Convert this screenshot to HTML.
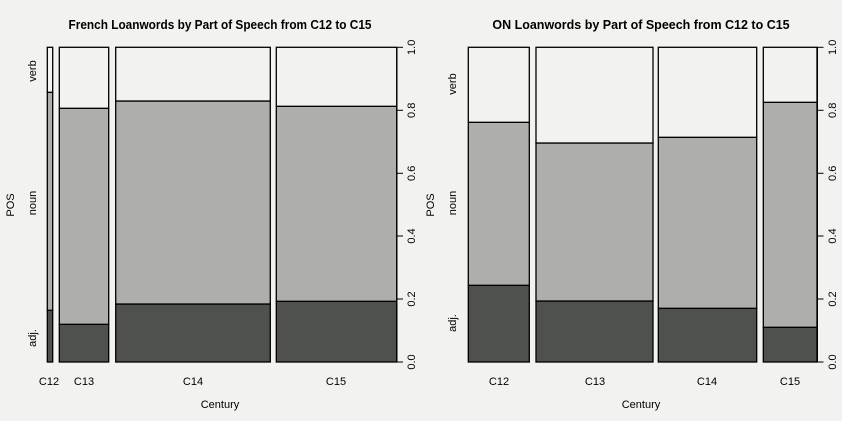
<!DOCTYPE html>
<html><head><meta charset="utf-8"><style>
html,body{margin:0;padding:0;background:#f2f3f0;}
svg{display:block;font-family:"Liberation Sans",Arial,sans-serif;}
</style></head><body>
<svg width="842" height="421" viewBox="0 0 842 421" xmlns="http://www.w3.org/2000/svg">
<rect width="842" height="421" fill="#f2f3f0"/>
<g stroke="#000" stroke-width="1.3">
<rect x="47.3" y="310.3" width="5.4" height="51.7" fill="#4f514e"/>
<rect x="47.3" y="92.3" width="5.4" height="218" fill="#aeafac"/>
<rect x="47.3" y="47.3" width="5.4" height="45" fill="#f2f3f0"/>
<rect x="59.3" y="324.3" width="49.4" height="37.7" fill="#4f514e"/>
<rect x="59.3" y="108.3" width="49.4" height="216" fill="#aeafac"/>
<rect x="59.3" y="47.3" width="49.4" height="61" fill="#f2f3f0"/>
<rect x="115.7" y="304" width="154.6" height="58" fill="#4f514e"/>
<rect x="115.7" y="101" width="154.6" height="203" fill="#aeafac"/>
<rect x="115.7" y="47.3" width="154.6" height="53.7" fill="#f2f3f0"/>
<rect x="276.3" y="301.3" width="120.4" height="60.7" fill="#4f514e"/>
<rect x="276.3" y="106.3" width="120.4" height="195" fill="#aeafac"/>
<rect x="276.3" y="47.3" width="120.4" height="59" fill="#f2f3f0"/>
<rect x="468.3" y="285.3" width="61" height="76.7" fill="#4f514e"/>
<rect x="468.3" y="122.3" width="61" height="163" fill="#aeafac"/>
<rect x="468.3" y="47.3" width="61" height="75" fill="#f2f3f0"/>
<rect x="536" y="301" width="117" height="61" fill="#4f514e"/>
<rect x="536" y="143" width="117" height="158" fill="#aeafac"/>
<rect x="536" y="47.3" width="117" height="95.7" fill="#f2f3f0"/>
<rect x="658.3" y="308.3" width="98.4" height="53.7" fill="#4f514e"/>
<rect x="658.3" y="137.3" width="98.4" height="171" fill="#aeafac"/>
<rect x="658.3" y="47.3" width="98.4" height="90" fill="#f2f3f0"/>
<rect x="763.3" y="327.3" width="53.7" height="34.7" fill="#4f514e"/>
<rect x="763.3" y="102.3" width="53.7" height="225" fill="#aeafac"/>
<rect x="763.3" y="47.3" width="53.7" height="55" fill="#f2f3f0"/>
</g>
<g stroke="#000" stroke-width="1">
<line x1="397" y1="47.3" x2="397" y2="362"/>
<line x1="397" y1="362" x2="403" y2="362"/><line x1="397" y1="299" x2="403" y2="299"/><line x1="397" y1="236" x2="403" y2="236"/><line x1="397" y1="173.3" x2="403" y2="173.3"/><line x1="397" y1="110.3" x2="403" y2="110.3"/><line x1="397" y1="47.3" x2="403" y2="47.3"/>
<line x1="817.5" y1="47.3" x2="817.5" y2="362"/>
<line x1="817.5" y1="362" x2="823.5" y2="362"/><line x1="817.5" y1="299" x2="823.5" y2="299"/><line x1="817.5" y1="236" x2="823.5" y2="236"/><line x1="817.5" y1="173.3" x2="823.5" y2="173.3"/><line x1="817.5" y1="110.3" x2="823.5" y2="110.3"/><line x1="817.5" y1="47.3" x2="823.5" y2="47.3"/>
</g>
<g font-size="11" fill="#000" text-anchor="middle">
<text x="220" y="29" font-weight="bold" font-size="12.5" textLength="303" lengthAdjust="spacingAndGlyphs">French Loanwords by Part of Speech from C12 to C15</text>
<text x="641" y="29" font-weight="bold" font-size="12.5">ON Loanwords by Part of Speech from C12 to C15</text>
<text x="49" y="385">C12</text><text x="84" y="385">C13</text><text x="193" y="385">C14</text><text x="336" y="385">C15</text>
<text x="499" y="385">C12</text><text x="595" y="385">C13</text><text x="707" y="385">C14</text><text x="790" y="385">C15</text>
<text x="220" y="408">Century</text><text x="641" y="408">Century</text>
<g transform="translate(36,71) rotate(-90)"><text>verb</text></g>
<g transform="translate(36,203) rotate(-90)"><text>noun</text></g>
<g transform="translate(36,338) rotate(-90)"><text>adj.</text></g>
<g transform="translate(14,205) rotate(-90)"><text>POS</text></g>
<g transform="translate(456,84) rotate(-90)"><text>verb</text></g>
<g transform="translate(456,203) rotate(-90)"><text>noun</text></g>
<g transform="translate(456,323) rotate(-90)"><text>adj.</text></g>
<g transform="translate(434,205) rotate(-90)"><text>POS</text></g>
<g transform="translate(415,362) rotate(-90)"><text>0.0</text></g>
<g transform="translate(415,299) rotate(-90)"><text>0.2</text></g>
<g transform="translate(415,236) rotate(-90)"><text>0.4</text></g>
<g transform="translate(415,173.3) rotate(-90)"><text>0.6</text></g>
<g transform="translate(415,110.3) rotate(-90)"><text>0.8</text></g>
<g transform="translate(415,47.3) rotate(-90)"><text>1.0</text></g>
<g transform="translate(836,362) rotate(-90)"><text>0.0</text></g>
<g transform="translate(836,299) rotate(-90)"><text>0.2</text></g>
<g transform="translate(836,236) rotate(-90)"><text>0.4</text></g>
<g transform="translate(836,173.3) rotate(-90)"><text>0.6</text></g>
<g transform="translate(836,110.3) rotate(-90)"><text>0.8</text></g>
<g transform="translate(836,47.3) rotate(-90)"><text>1.0</text></g>
</g>
</svg>
</body></html>
